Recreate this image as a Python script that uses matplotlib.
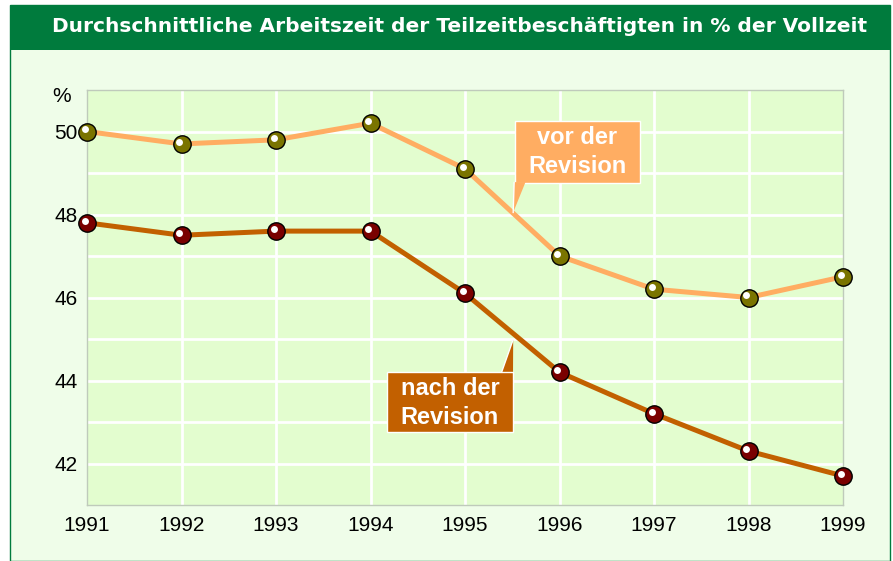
import matplotlib
matplotlib.use("Agg")
import matplotlib.pyplot as plt
from matplotlib.patches import Rectangle, Polygon
from matplotlib.transforms import offset_copy

plt.rcParams['font.family'] = ['Liberation Sans', 'DejaVu Sans']

years = [1991, 1992, 1993, 1994, 1995, 1996, 1997, 1998, 1999]
vor_revision = [50.0, 49.7, 49.8, 50.2, 49.1, 47.0, 46.2, 46.0, 46.5]
nach_revision = [47.8, 47.5, 47.6, 47.6, 46.1, 44.2, 43.2, 42.3, 41.7]
y_ticks = [42, 44, 46, 48, 50]

TITLE = 'Durchschnittliche Arbeitszeit der Teilzeitbeschäftigten in % der Vollzeit'
BG_OUTER = '#effde9'
BG_PLOT = '#e3fdcf'
GREEN = '#007b3d'
C_VOR = '#ffad62'
C_NACH = '#c26000'

fig = plt.figure(figsize=(8.93, 5.61), dpi=100)
fig.patch.set_facecolor('white')

# panel background + border
fig.patches.append(Rectangle((10 / 893, 0), 880 / 893, 1 - 5 / 561, transform=fig.transFigure,
                             facecolor=BG_OUTER, edgecolor=GREEN, linewidth=1.0, zorder=-2))
# title band
fig.patches.append(Rectangle((10 / 893, 1 - 50 / 561), 880 / 893, 45 / 561, transform=fig.transFigure,
                             facecolor=GREEN, edgecolor='none', zorder=-1))
fig.text(460 / 893, 1 - 27 / 561, TITLE, color='white', fontsize=14.5, fontweight='bold',
         family='DejaVu Sans', ha='center', va='center')
fig.text(62 / 893, 1 - 96 / 561, '%', fontsize=15, ha='center', va='center')

ax = fig.add_axes([87 / 893, 56 / 561, 756 / 893, 415 / 561])
ax.set_zorder(2)
ax.set_facecolor(BG_PLOT)
ax.set_xlim(1991, 1999)
ax.set_ylim(41, 51)
for s in ax.spines.values():
    s.set_color('#bfcabb')
    s.set_linewidth(1.0)

ax.set_xticks(years)
ax.set_xticklabels([str(y) for y in years])
ax.set_yticks(y_ticks)
ax.set_yticklabels([str(v) for v in y_ticks])
ax.tick_params(length=0, labelsize=15)
ax.tick_params(axis='x', pad=8)
ax.tick_params(axis='y', pad=7)

for v in range(42, 51):
    ax.axhline(v, color='white', linewidth=2, zorder=1)
for y in years[1:-1]:
    ax.axvline(y, color='white', linewidth=2, zorder=1)

ax.plot(years, vor_revision, color=C_VOR, linewidth=3.6, zorder=3, clip_on=False)
ax.plot(years, nach_revision, color=C_NACH, linewidth=3.6, zorder=3, clip_on=False)

# ball markers with a small highlight
hl = offset_copy(ax.transData, fig=fig, x=-1.5, y=1.5, units='points')
for vals, mc in [(vor_revision, '#7a7400'), (nach_revision, '#7a0000')]:
    ax.plot(years, vals, 'o', markersize=12.5, markerfacecolor=mc, markeredgecolor='black',
            markeredgewidth=1.0, zorder=4, clip_on=False)
    ax.plot(years, vals, 'o', markersize=5, markerfacecolor='white', markeredgecolor='none',
            zorder=5, clip_on=False, transform=hl)

# callout boxes
ax.add_patch(Rectangle((1995.53, 48.77), 1.32, 1.49, facecolor=C_VOR, edgecolor='white',
                       linewidth=1, zorder=6))
ax.add_patch(Polygon([(1995.52, 48.78), (1995.64, 48.78), (1995.51, 48.05)], closed=True,
                     facecolor=C_VOR, edgecolor='none', zorder=6))
ax.plot([1995.52, 1995.51], [48.77, 48.05], color='white', linewidth=1, zorder=6)
ax.text(1996.19, 49.5, 'vor der\nRevision', color='white', fontsize=17, fontweight='bold',
        ha='center', va='center', linespacing=1.35, zorder=7)

ax.add_patch(Rectangle((1994.175, 42.75), 1.333, 1.466, facecolor=C_NACH, edgecolor='white',
                       linewidth=1, zorder=6))
ax.add_patch(Polygon([(1995.39, 44.21), (1995.508, 44.21), (1995.51, 44.99)], closed=True,
                     facecolor=C_NACH, edgecolor='none', zorder=6))
ax.plot([1995.39, 1995.51], [44.216, 44.99], color='white', linewidth=1, zorder=6)
ax.text(1994.84, 43.46, 'nach der\nRevision', color='white', fontsize=17, fontweight='bold',
        ha='center', va='center', linespacing=1.35, zorder=7)

fig.savefig('out.png', dpi=100, facecolor=fig.get_facecolor())
